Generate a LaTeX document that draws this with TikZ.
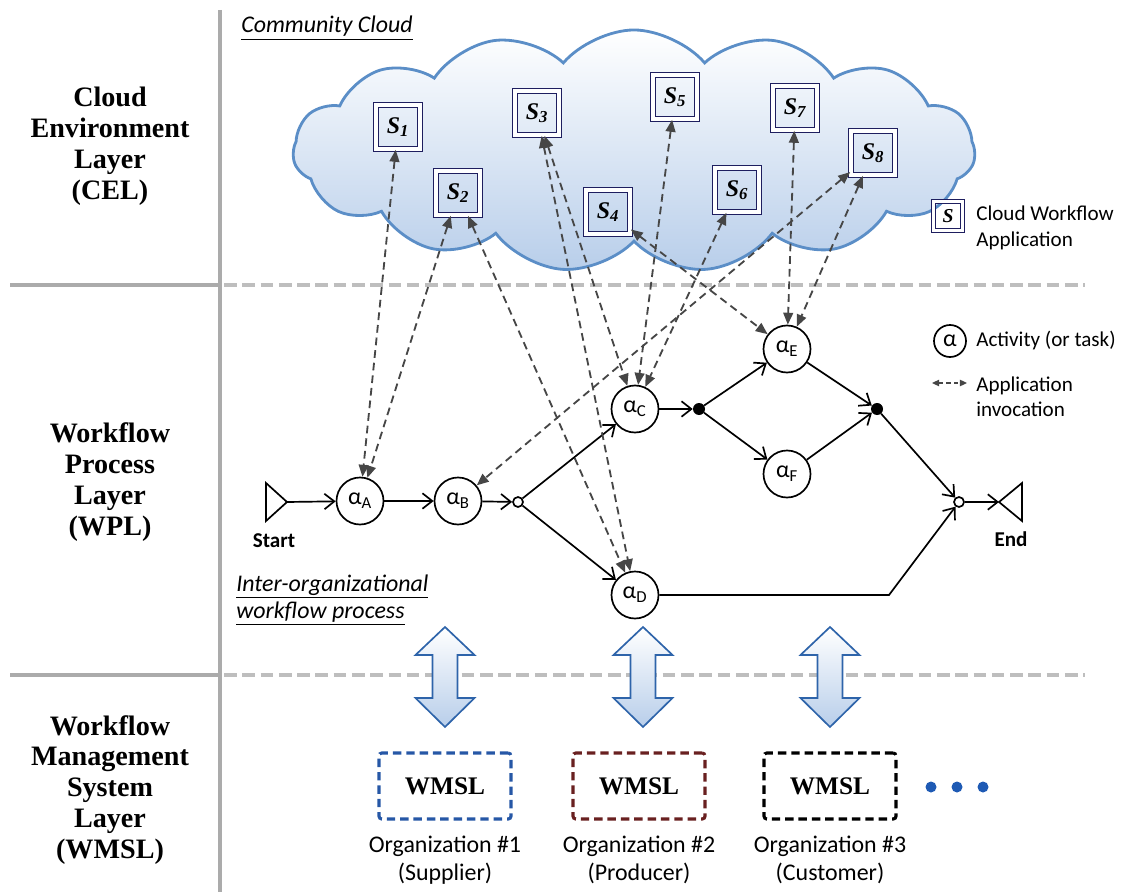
\documentclass[tikz,border=0pt]{standalone}
\usepackage{fontspec}
\setmainfont{Liberation Serif}
\newfontfamily\calib{Carlito}
\usepackage{tikz}
\usetikzlibrary{arrows.meta,shapes.symbols}

\definecolor{cloudline}{RGB}{91,142,199}
\definecolor{cloudfill}{RGB}{184,206,234}
\definecolor{appnavy}{RGB}{30,30,95}
\definecolor{invgray}{RGB}{70,70,70}
\definecolor{sepgray}{RGB}{190,190,190}
\definecolor{arrowline}{RGB}{46,100,170}
\definecolor{orgblue}{RGB}{38,87,166}
\definecolor{orgred}{RGB}{105,32,32}
\definecolor{dotblue}{RGB}{30,90,180}

\begin{document}
\begin{tikzpicture}[x=0.025cm, y=-0.025cm,
    layer/.style={align=center, font=\fontsize{20}{22}\selectfont\bfseries},
    note/.style={font=\calib\fontsize{15}{18}\selectfont, align=left, inner sep=0pt},
    app/.style={draw=appnavy, line width=1.2pt, double=white, double distance=2.4pt,
        minimum size=1.1cm, inner sep=0pt, font=\fontsize{17}{17}\selectfont\bfseries\itshape},
    act/.style={circle, draw, line width=1.2pt, fill=white, minimum size=1.175cm,
        inner sep=0pt, font=\calib\fontsize{17}{17}\selectfont},
    gate/.style={circle, draw, line width=1.2pt, fill=white, minimum size=0.25cm, inner sep=0pt},
    andgate/.style={circle, fill=black, minimum size=0.3cm, inner sep=0pt},
    flow/.style={line width=1.2pt, -{Straight Barb[length=7pt,width=11pt]}},
    invoke/.style={draw=invgray, line width=1.3pt, dash pattern=on 5.5pt off 3.5pt,
        {Triangle[length=8.5pt,width=7pt]}-{Triangle[length=8.5pt,width=7pt]}},
    sep/.style={sepgray, line width=3pt, dash pattern=on 9pt off 4pt},
    bigarrow/.style={draw=arrowline, line width=1.2pt, top color=white, bottom color=cloudfill},
    wmsl/.style={line width=2.2pt, dash pattern=on 6pt off 3.5pt, rounded corners=2pt,
        minimum width=3.3cm, minimum height=1.65cm, font=\fontsize{18}{18}\selectfont\bfseries},
    org/.style={align=center, font=\calib\fontsize{17}{20}\selectfont}]

    \useasboundingbox (0,0) rectangle (1123,892);

    % layer frame
    \draw[sepgray!90!black, line width=2.5pt] (220,10) -- (220,892);
    \draw[sepgray!90!black, line width=2.5pt] (10,285) -- (218,285);
    \draw[sepgray!90!black, line width=2.5pt] (10,675) -- (218,675);
    \draw[sep] (224,285) -- (1085,285);
    \draw[sep] (224,675) -- (1085,675);

    \node[layer] at (110,146) (cel) {Cloud\\Environment\\Layer\\(CEL)};
    \node[layer] at (110,482) (wpl) {Workflow\\Process\\Layer\\(WPL)};
    \node[layer] at (110,790) (wmslayer) {Workflow\\Management\\System\\Layer\\(WMSL)};

    % community cloud
    \node[cloud, cloud puffs=15, cloud puff arc=100, cloud ignores aspect, draw=cloudline,
        line width=2pt, top color=white, bottom color=cloudfill,
        minimum width=17.05cm, minimum height=6.05cm] at (634,151) (cloud) {};
    \node[anchor=west, inner sep=0pt, font=\calib\itshape\fontsize{17}{20}\selectfont]
        at (241,28) (cc) {\underline{Community Cloud}};

    \node[app] at (398,127) (s1) {S\textsubscript{1}};
    \node[app] at (458,193) (s2) {S\textsubscript{2}};
    \node[app] at (537,113) (s3) {S\textsubscript{3}};
    \node[app] at (608,212) (s4) {S\textsubscript{4}};
    \node[app] at (675,97) (s5) {S\textsubscript{5}};
    \node[app] at (737,190) (s6) {S\textsubscript{6}};
    \node[app] at (795,108) (s7) {S\textsubscript{7}};
    \node[app] at (873,153) (s8) {S\textsubscript{8}};

    % legend
    \node[app, minimum size=0.73cm, double distance=1.6pt, line width=1pt,
        font=\fontsize{14}{14}\selectfont\bfseries\itshape] at (948,216) (legs) {S};
    \node[note, anchor=west] at (976,228) (legstext) {Cloud Workflow\\Application};
    \node[act, minimum size=0.8cm] at (950,341) (legact) {α};
    \node[note, anchor=west] at (976,340) (legacttext) {Activity (or task)};
    \coordinate (leginv1) at (932,383);
    \coordinate (leginv2) at (967,383);
    \draw[invoke, line width=0.9pt, dash pattern=on 3pt off 2.5pt,
        {Triangle[length=5pt,width=4.5pt]}-{Triangle[length=5pt,width=4.5pt]}] (leginv1) -- (leginv2);
    \node[note, anchor=west] at (976,397) (leginvtext) {Application\\invocation};

    % workflow process
    \coordinate (start) at (287,502);
    \draw[line width=1.2pt] (266,483) -- (start) -- (266,521) -- cycle;
    \node[font=\calib\bfseries\fontsize{15}{15}\selectfont] at (274,541) (starttext) {Start};
    \coordinate (finish) at (999,502);
    \draw[line width=1.2pt] (1022,483) -- (finish) -- (1022,521) -- cycle;
    \node[font=\calib\bfseries\fontsize{15}{15}\selectfont] at (1011,539) (endtext) {End};

    \node[act] at (360,501) (aA) {α\textsubscript{A}};
    \node[act] at (458,501) (aB) {α\textsubscript{B}};
    \node[act] at (635,409) (aC) {α\textsubscript{C}};
    \node[act] at (635,595) (aD) {α\textsubscript{D}};
    \node[act] at (787,349) (aE) {α\textsubscript{E}};
    \node[act] at (787,474) (aF) {α\textsubscript{F}};
    \node[gate] at (518,502) (split) {};
    \node[andgate] at (699,409) (fork) {};
    \node[andgate] at (877,409) (merge) {};
    \node[gate] at (959,502) (join) {};
    \coordinate (dturn) at (889,595);

    \draw[flow] (start) -- (aA);
    \draw[flow] (aA) -- (aB);
    \draw[flow] (aB) -- (split);
    \draw[flow] (split) -- (aC);
    \draw[flow] (split) -- (aD);
    \draw[flow] (aC) -- (fork);
    \draw[flow] (fork) -- (aE);
    \draw[flow] (fork) -- (aF);
    \draw[flow] (aE) -- (merge);
    \draw[flow] (aF) -- (merge);
    \draw[flow] (merge) -- (join);
    \draw[flow] (aD) -- (dturn) -- (join);
    \draw[flow] (join) -- (finish);

    % application invocations
    \draw[invoke] (s1) -- (aA);
    \draw[invoke] (s2) -- (aA);
    \draw[invoke] (s2) -- (aD);
    \draw[invoke] (s3) -- (aC);
    \draw[invoke] (s3) -- (aD);
    \draw[invoke] (s5) -- (aC);
    \draw[invoke] (s6) -- (aC);
    \draw[invoke] (s8) -- (aB);
    \draw[invoke] (s4) -- (aE);
    \draw[invoke] (s7) -- (aE);
    \draw[invoke] (s8) -- (aE);

    \node[anchor=west, align=left, inner sep=0pt, font=\calib\itshape\fontsize{17}{19}\selectfont]
        at (236,600) (interorg) {\underline{Inter-organizational}\\\underline{workflow process}};

    % management systems
    \draw[bigarrow] (445,627) -- ++(29.5,28) -- ++(-17,0) -- ++(0,43) -- ++(17,0) -- ++(-29.5,29)
        -- ++(-29.5,-29) -- ++(17,0) -- ++(0,-43) -- ++(-17,0) -- cycle;
    \draw[bigarrow] (643,627) -- ++(29.5,28) -- ++(-17,0) -- ++(0,43) -- ++(17,0) -- ++(-29.5,29)
        -- ++(-29.5,-29) -- ++(17,0) -- ++(0,-43) -- ++(-17,0) -- cycle;
    \draw[bigarrow] (830,627) -- ++(29.5,28) -- ++(-17,0) -- ++(0,43) -- ++(17,0) -- ++(-29.5,29)
        -- ++(-29.5,-29) -- ++(17,0) -- ++(0,-43) -- ++(-17,0) -- cycle;

    \node[wmsl, draw=orgblue] at (445,786) (wm1) {WMSL};
    \node[wmsl, draw=orgred] at (639,786) (wm2) {WMSL};
    \node[wmsl, draw=black] at (830,786) (wm3) {WMSL};
    \node[org] at (445,860) (org1) {Organization \#1\\(Supplier)};
    \node[org] at (639,860) (org2) {Organization \#2\\(Producer)};
    \node[org] at (830,860) (org3) {Organization \#3\\(Customer)};
    \node[circle, fill=dotblue, minimum size=0.275cm, inner sep=0pt] at (931,787) (more1) {};
    \node[circle, fill=dotblue, minimum size=0.275cm, inner sep=0pt] at (957,787) (more2) {};
    \node[circle, fill=dotblue, minimum size=0.275cm, inner sep=0pt] at (983,787) (more3) {};
\end{tikzpicture}
\end{document}
